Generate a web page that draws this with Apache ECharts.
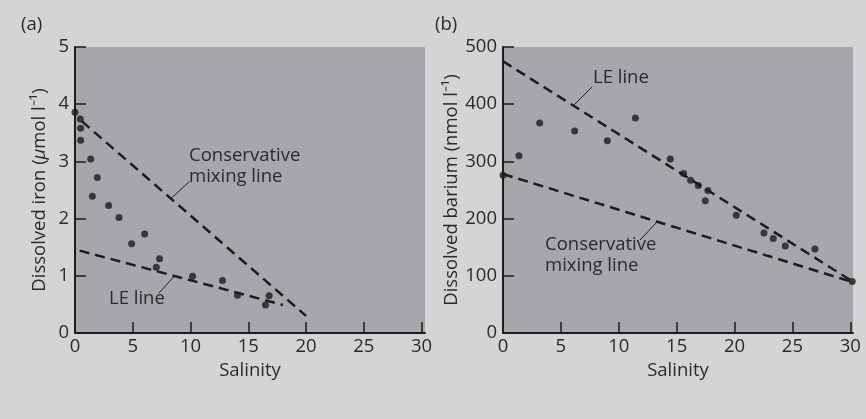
<!DOCTYPE html>
<html><head><meta charset="utf-8">
<script src="https://cdn.jsdelivr.net/npm/echarts@6/dist/echarts.min.js"></script>
<style>html,body{margin:0;padding:0;background:#d3d4d6}#c{width:866px;height:419px}</style>
</head><body><div id="c"></div>
<script>
// ---- data ----
const ironSalinity = [0, 0.46, 0.49, 0.49, 1.36, 1.93, 1.5, 2.91, 3.81, 6.03, 4.9, 7.32, 7.04, 10.18, 12.77, 14.07, 16.81, 16.49];
const ironValues   = [3.86, 3.74, 3.58, 3.37, 3.04, 2.72, 2.39, 2.23, 2.02, 1.73, 1.56, 1.3, 1.15, 0.99, 0.92, 0.66, 0.65, 0.49];
const ironConservativeX = [0.6, 20];
const ironConservativeY = [3.7, 0.3];
const ironLEX = [0.4, 18];
const ironLEY = [1.44, 0.49];

const bariumSalinity = [0, 1.38, 3.17, 6.19, 9.01, 11.43, 14.45, 15.6, 16.2, 16.87, 17.7, 17.47, 20.15, 22.54, 23.34, 24.38, 26.94, 30.16];
const bariumValues   = [276, 310, 367, 353, 336, 376, 304, 279, 267, 258, 249, 231, 206, 175, 165, 152, 147, 90];
const bariumLEX = [0, 30.2];
const bariumLEY = [475, 90];
const bariumConservativeX = [0, 30.2];
const bariumConservativeY = [278, 89];

const xTicks = [0, 5, 10, 15, 20, 25, 30];
const ironTicks = [0, 1, 2, 3, 4, 5];
const bariumTicks = [0, 100, 200, 300, 400, 500];

const panelLabels = ['(a)', '(b)'];
const ironTitle = 'Dissolved iron ({i|μ}mol l⁻¹)';
const bariumTitle = 'Dissolved barium (nmol l⁻¹)';
const xTitle = 'Salinity';

// ---- helpers ----
const pairs = (xs, ys) => xs.map((x, i) => [x, ys[i]]);
const FONT = '"Open Sans", sans-serif';
const FS = 18.5;
const TXT = '#2a2a2a';
const INK = '#1c1c1c';

function xAxis(gi, max) {
  return {
    type: 'value', gridIndex: gi, min: 0, max: max,
    axisLine: { show: true, lineStyle: { color: INK, width: 2 } },
    axisTick: { show: true, inside: true, length: 11, lineStyle: { color: INK, width: 1.5 }, customValues: xTicks },
    axisLabel: { color: TXT, fontFamily: FONT, fontSize: FS, margin: 4, customValues: xTicks },
    splitLine: { show: false },
    name: xTitle, nameLocation: 'middle', nameGap: 25,
    nameTextStyle: { color: TXT, fontFamily: FONT, fontSize: FS }
  };
}
function yAxis(gi, ticks, title, gap) {
  return {
    type: 'value', gridIndex: gi, min: ticks[0], max: ticks[ticks.length - 1],
    interval: ticks[1] - ticks[0],
    axisLine: { show: true, lineStyle: { color: INK, width: 2 } },
    axisTick: { show: true, inside: true, length: 11, lineStyle: { color: INK, width: 1.5 } },
    axisLabel: { color: TXT, fontFamily: FONT, fontSize: FS, margin: 6 },
    splitLine: { show: false },
    name: title, nameLocation: 'middle', nameRotate: 90, nameGap: gap,
    nameTextStyle: { color: TXT, fontFamily: FONT, fontSize: FS,
      rich: { i: { fontStyle: 'italic', color: TXT, fontFamily: FONT, fontSize: FS } } }
  };
}
function dashed(xi, data) {
  return { type: 'line', xAxisIndex: xi, yAxisIndex: xi, data: data, symbol: 'none', silent: true,
    lineStyle: { color: INK, width: 2.5, type: [10, 6] }, z: 3 };
}
function dots(xi, data) {
  return { type: 'scatter', xAxisIndex: xi, yAxisIndex: xi, data: data, symbol: 'circle', symbolSize: 7,
    itemStyle: { color: INK }, clip: false, z: 4 };
}
const font = FS + 'px ' + FONT;

const chart = echarts.init(document.getElementById('c'));
chart.setOption({
  backgroundColor: '#d3d4d6',
  animation: false,
  grid: [
    { left: 75, top: 47, width: 350, height: 286, show: true, backgroundColor: '#a6a7aa', borderWidth: 0 },
    { left: 503, top: 47, width: 350, height: 286, show: true, backgroundColor: '#a6a7aa', borderWidth: 0 }
  ],
  xAxis: [xAxis(0, 30.3), xAxis(1, 30.23)],
  yAxis: [yAxis(0, ironTicks, ironTitle, 26), yAxis(1, bariumTicks, bariumTitle, 40)],
  series: [
    dashed(0, pairs(ironConservativeX, ironConservativeY)),
    dashed(0, pairs(ironLEX, ironLEY)),
    dots(0, pairs(ironSalinity, ironValues)),
    dashed(1, pairs(bariumLEX, bariumLEY)),
    dashed(1, pairs(bariumConservativeX, bariumConservativeY)),
    dots(1, pairs(bariumSalinity, bariumValues))
  ],
  graphic: [
    { type: 'text', x: 21, y: 15, style: { text: panelLabels[0], fill: TXT, font: font } },
    { type: 'text', x: 435, y: 15, style: { text: panelLabels[1], fill: TXT, font: font } },
    // (a) annotations
    { type: 'text', x: 189, y: 145, style: { text: 'Conservative\nmixing line', fill: TXT, font: font, lineHeight: 21 } },
    { type: 'line', shape: { x1: 170, y1: 199.5, x2: 189.5, y2: 181.5 }, style: { stroke: INK, lineWidth: 1 } },
    { type: 'text', x: 109, y: 289, style: { text: 'LE line', fill: TXT, font: font } },
    { type: 'line', shape: { x1: 173.5, y1: 277, x2: 159, y2: 293 }, style: { stroke: INK, lineWidth: 1 } },
    // (b) annotations
    { type: 'text', x: 593, y: 68, style: { text: 'LE line', fill: TXT, font: font } },
    { type: 'line', shape: { x1: 573, y1: 106, x2: 592, y2: 87 }, style: { stroke: INK, lineWidth: 1 } },
    { type: 'text', x: 545, y: 234, style: { text: 'Conservative\nmixing line', fill: TXT, font: font, lineHeight: 21 } },
    { type: 'line', shape: { x1: 657, y1: 222, x2: 640, y2: 240 }, style: { stroke: INK, lineWidth: 1 } }
  ]
});
</script>
</body></html>
